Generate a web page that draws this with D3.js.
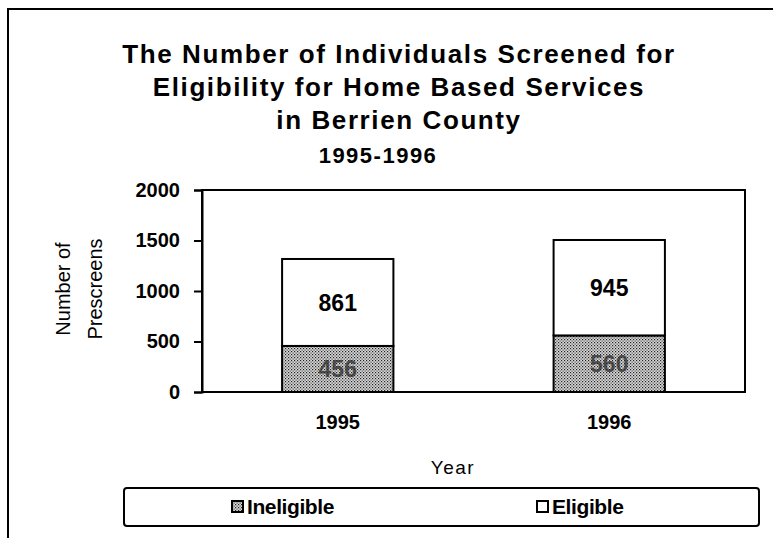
<!DOCTYPE html>
<html>
<head>
<meta charset="utf-8">
<script src="https://cdn.jsdelivr.net/npm/d3@7"></script>
<style>
  body { margin: 0; background: #fff; }
  svg { display: block; font-family: "Liberation Sans", Arial, sans-serif; }
</style>
</head>
<body>
<div id="chart"></div>
<script>
// data
const years = ['1995', '1996'];
const ineligible = [456, 560];
const eligible = [861, 945];
const seriesNames = ['Ineligible', 'Eligible'];
const yTicks = [0, 500, 1000, 1500, 2000];
const titleLines = [
  'The Number of Individuals Screened for',
  'Eligibility for Home Based Services',
  'in Berrien County'
];
const subTitle = '1995-1996';

const width = 773, height = 538;
const svg = d3.select('#chart').append('svg')
  .attr('width', width).attr('height', height);

// hatched fill
const defs = svg.append('defs');
const pat = defs.append('pattern')
  .attr('id', 'hatch').attr('patternUnits', 'userSpaceOnUse')
  .attr('width', 3).attr('height', 3);
pat.append('rect').attr('width', 3).attr('height', 3).attr('fill', '#d8d8d8');
pat.append('rect').attr('x', 0).attr('y', 0).attr('width', 1.2).attr('height', 1.2).attr('fill', '#222');
pat.append('rect').attr('x', 1.5).attr('y', 1.5).attr('width', 1.2).attr('height', 1.2).attr('fill', '#444');

// outer frame (top + left)
svg.append('path')
  .attr('d', 'M8,538 V9 H773')
  .attr('fill', 'none').attr('stroke', '#000').attr('stroke-width', 2);

// title
svg.append('g').selectAll('text')
  .data(titleLines).enter().append('text')
  .attr('x', 399).attr('y', (d, i) => 63 + i * 33)
  .attr('text-anchor', 'middle')
  .attr('font-size', 26).attr('font-weight', 'bold')
  .attr('letter-spacing', 1.6)
  .text(d => d);
svg.append('text')
  .attr('x', 378).attr('y', 163)
  .attr('text-anchor', 'middle')
  .attr('font-size', 22).attr('font-weight', 'bold')
  .attr('letter-spacing', 1.5)
  .text(subTitle);

const margin = {left: 202, right: 745, top: 190, bottom: 392};

const x = d3.scaleBand().domain(years)
  .range([margin.left, margin.right]).paddingInner(0.59).paddingOuter(0.295);
const y = d3.scaleLinear().domain([0, 2000]).range([margin.bottom, margin.top]);

// plot box
svg.append('rect')
  .attr('x', margin.left).attr('y', margin.top)
  .attr('width', margin.right - margin.left).attr('height', margin.bottom - margin.top)
  .attr('fill', 'none').attr('stroke', '#000').attr('stroke-width', 2);

// y axis
const yAxis = svg.append('g')
  .attr('transform', `translate(${margin.left},0)`)
  .call(d3.axisLeft(y).tickValues(yTicks).tickFormat(d3.format('d')).tickSize(8).tickPadding(14));
yAxis.select('.domain').attr('stroke-width', 2);
yAxis.selectAll('.tick line').attr('stroke-width', 2);
yAxis.selectAll('text').attr('font-size', 20).attr('font-weight', 'bold')
  .attr('font-family', '"Liberation Sans", Arial, sans-serif').attr('fill', '#000');

// x labels
svg.append('g').selectAll('text')
  .data(years).enter().append('text')
  .attr('x', d => x(d) + x.bandwidth() / 2).attr('y', 429)
  .attr('text-anchor', 'middle')
  .attr('font-size', 20).attr('font-weight', 'bold')
  .text(d => d);

svg.append('text')
  .attr('x', 453).attr('y', 474)
  .attr('text-anchor', 'middle').attr('font-size', 19)
  .attr('letter-spacing', 1.5)
  .text('Year');

// y title
const yt = svg.append('text')
  .attr('transform', 'translate(0,289) rotate(-90)')
  .attr('text-anchor', 'middle').attr('font-size', 20);
yt.append('tspan').attr('x', 0).attr('y', 70).text('Number of');
yt.append('tspan').attr('x', 0).attr('y', 102).text('Prescreens');

// stacked bars
const stackData = years.map((yr, i) => ({year: yr, Ineligible: ineligible[i], Eligible: eligible[i]}));
const stack = d3.stack().keys(seriesNames)(stackData);
const fills = {Ineligible: 'url(#hatch)', Eligible: '#fff'};

const layers = svg.append('g').selectAll('g')
  .data(stack).enter().append('g');
layers.selectAll('rect')
  .data(d => d.map(v => ({key: d.key, v}))).enter().append('rect')
  .attr('x', d => x(d.v.data.year))
  .attr('y', d => y(d.v[1]))
  .attr('width', x.bandwidth())
  .attr('height', d => y(d.v[0]) - y(d.v[1]))
  .attr('fill', d => fills[d.key])
  .attr('stroke', '#000').attr('stroke-width', 2);
layers.selectAll('text')
  .data(d => d.map(v => ({key: d.key, v}))).enter().append('text')
  .attr('x', d => x(d.v.data.year) + x.bandwidth() / 2)
  .attr('y', d => (y(d.v[0]) + y(d.v[1])) / 2)
  .attr('dy', '0.36em')
  .attr('text-anchor', 'middle')
  .attr('font-size', 23)
  .attr('font-weight', 'bold')
  .attr('fill', d => d.key === 'Eligible' ? '#000' : '#2a2a2a')
  .attr('opacity', d => d.key === 'Eligible' ? 1 : 0.75)
  .text(d => d.v.data[d.key]);

// legend
svg.append('rect')
  .attr('x', 124).attr('y', 488).attr('width', 635).attr('height', 38)
  .attr('rx', 3)
  .attr('fill', 'none').attr('stroke', '#000').attr('stroke-width', 2);
const legX = [232, 537];
const leg = svg.append('g').selectAll('g')
  .data(seriesNames).enter().append('g')
  .attr('transform', (d, i) => `translate(${legX[i]},501)`);
leg.append('rect')
  .attr('width', 11).attr('height', 11)
  .attr('fill', d => d === 'Ineligible' ? 'url(#hatch)' : '#fff')
  .attr('stroke', '#000').attr('stroke-width', 2);
leg.append('text')
  .attr('x', 15).attr('y', 13)
  .attr('font-size', 21).attr('font-weight', 'bold').attr('letter-spacing', -0.4)
  .text(d => d);
</script>
</body>
</html>
